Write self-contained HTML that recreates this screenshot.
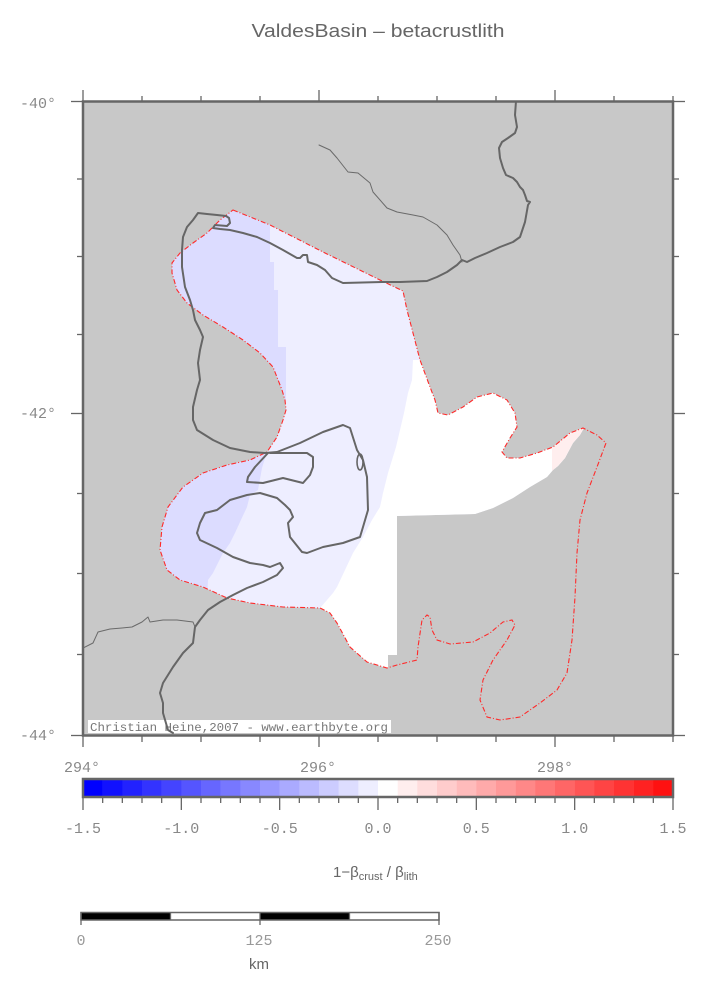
<!DOCTYPE html>
<html><head><meta charset="utf-8"><style>
html,body{margin:0;padding:0;background:#fff;}
svg{display:block;}
</style></head><body>
<svg width="707" height="990" viewBox="0 0 707 990" xmlns="http://www.w3.org/2000/svg">
<defs>
<clipPath id="outl"><polygon points="233,210 270,225 323,252 380,280 403,291 407,310 413,333 420,360 430,387 435,400 438,413 448,415 463,407 477,397 493,393 507,400 515,413 517,427 510,438 502,452 507,458 520,458 537,453 553,447 570,433 583,428 597,435 606,443 597,467 587,493 580,520 577,553 575,597 572,640 567,673 557,690 540,703 520,717 500,720 487,717 480,700 483,680 493,660 507,640 515,625 512,620 503,622 490,633 473,642 450,644 437,640 432,630 430,617 427,615 422,620 418,647 417,660 397,665 387,668 367,662 350,647 337,623 330,613 320,608 283,607 250,603 227,598 203,587 180,580 167,570 160,550 162,527 168,507 183,487 203,473 227,465 250,460 267,452 277,437 283,420 286,410 285,400 282,390 273,367 260,353 243,340 223,327 203,315 187,303 177,290 172,273 172,263 180,253 193,243 207,233 220,220"/></clipPath>
<clipPath id="mask"><polygon points="80,95 700,95 700,428 584,428 580,435 573,443 565,458 558,466 553,470 547,477 530,487 513,498 493,508 475,514 397,516 397,655 388,655 388,700 80,700"/></clipPath>
<clipPath id="frame"><rect x="83" y="101" width="590" height="635"/></clipPath>
</defs>

<!-- title -->
<text x="378" y="37" text-anchor="middle" font-family="Liberation Sans, sans-serif" font-size="18" fill="#666" textLength="253" lengthAdjust="spacingAndGlyphs">ValdesBasin – betacrustlith</text>

<!-- map background -->
<rect x="83" y="101" width="590" height="635" fill="#c8c8c8"/>

<!-- data fill -->
<g clip-path="url(#outl)"><g clip-path="url(#mask)">
<rect x="83" y="101" width="590" height="635" fill="#eeeeff"/>
<polygon fill="#dcdcff" points="150,195 270,195 270,262 274,262 274,290 278,290 278,347 286,347 286,400 150,400"/>
<polygon fill="#dcdcff" points="150,440 268,440 266,455 262,468 258,490 250,495 247,507 240,522 235,533 230,543 223,553 218,563 213,573 208,580 207,600 150,600"/>
<polygon fill="#ffffff" points="413,360 700,360 700,700 320,700 320,608 327,600 333,593 337,587 345,570 353,553 363,537 372,520 380,507 383,493 388,473 392,460 396,447 400,430 404,413 408,393 412,380"/>
<polygon fill="#ffeeee" points="552,446 590,420 584,428 580,435 573,443 565,458 558,466 552,471"/>
</g></g>

<!-- outline -->
<polygon fill="none" stroke="#ff2a2a" stroke-width="1.1" stroke-dasharray="5,2,1,2" points="233,210 270,225 323,252 380,280 403,291 407,310 413,333 420,360 430,387 435,400 438,413 448,415 463,407 477,397 493,393 507,400 515,413 517,427 510,438 502,452 507,458 520,458 537,453 553,447 570,433 583,428 597,435 606,443 597,467 587,493 580,520 577,553 575,597 572,640 567,673 557,690 540,703 520,717 500,720 487,717 480,700 483,680 493,660 507,640 515,625 512,620 503,622 490,633 473,642 450,644 437,640 432,630 430,617 427,615 422,620 418,647 417,660 397,665 387,668 367,662 350,647 337,623 330,613 320,608 283,607 250,603 227,598 203,587 180,580 167,570 160,550 162,527 168,507 183,487 203,473 227,465 250,460 267,452 277,437 283,420 286,410 285,400 282,390 273,367 260,353 243,340 223,327 203,315 187,303 177,290 172,273 172,263 180,253 193,243 207,233 220,220"/>

<!-- attribution -->
<rect x="88" y="720" width="303" height="13" fill="#fff"/>
<text x="90" y="731" font-family="Liberation Mono, monospace" font-size="12" fill="#777" textLength="298" lengthAdjust="spacingAndGlyphs">Christian Heine,2007 - www.earthbyte.org</text>

<!-- coastlines -->
<g clip-path="url(#frame)" fill="none" stroke-linejoin="round" stroke-linecap="round">
<polyline stroke="#666" stroke-width="2" points="516,101 515,115 517,127 515,133 508,138 502,142 499,148 500,158 503,168 506,175 513,178 517,182 520,187 523,190 525,195 527,201 530,202 528,205 525,222 520,237 513,242 500,247 487,253 475,258 467,262 462,260 457,265 447,272 437,277 427,281 400,282 383,282 343,283 332,278 325,270 317,265 308,262 307,255 303,255 300,258 297,258 283,250 270,243 257,237 243,233 230,230 220,229 213,228 215,225 227,226 230,223 229,218 226,216 217,215 207,214 198,213 193,220 187,227 183,237 182,250 182,267 185,287 190,300 193,310 195,320 200,330 203,337 200,350 198,363 200,380 197,390 193,407 193,420 197,430 213,440 230,448 250,452 265,453 277,452 300,443 323,432 343,425 350,428 357,450 363,460 367,477 368,510 363,527 360,537 343,543 323,547 307,553 302,552 290,537 288,523 293,517 290,510 285,505 277,498 260,493 247,495 230,500 217,510 205,513 200,523 197,533 200,540 217,548 233,557 250,563 263,565 270,567 280,563 283,568 277,575 263,582 247,588 233,595 220,602 208,610 200,620 195,627 193,643 183,653 173,667 163,683 160,693 163,703 163,713 168,730 173,733"/>
<polyline stroke="#666" stroke-width="2" points="268,453 255,467 248,477 247,482 263,483 283,478 303,483 310,475 313,467 313,457 307,453 290,453 270,453"/>
<ellipse cx="360" cy="462" rx="3" ry="8" stroke="#666" stroke-width="1.6"/>
<polyline stroke="#6a6a6a" stroke-width="1" points="319,145 330,150 337,158 348,172 358,173 370,183 373,192 387,208 397,212 413,215 423,217 437,225 447,235 453,245 460,255 462,262"/>
<polyline stroke="#6a6a6a" stroke-width="1" points="83,648 93,643 98,632 110,629 122,628 132,627 142,622 148,617 150,622 163,620 177,620 193,622 195,627"/>
</g>

<!-- frame -->
<rect x="83" y="101.5" width="590" height="634" fill="none" stroke="#666" stroke-width="2.5"/>
<g stroke="#666" stroke-width="1.3">
<!-- top ticks -->
<line x1="83" y1="101" x2="83" y2="90"/><line x1="142" y1="101" x2="142" y2="96"/><line x1="201" y1="101" x2="201" y2="96"/><line x1="260" y1="101" x2="260" y2="96"/><line x1="319" y1="101" x2="319" y2="90"/><line x1="378" y1="101" x2="378" y2="96"/><line x1="437" y1="101" x2="437" y2="96"/><line x1="496" y1="101" x2="496" y2="96"/><line x1="555" y1="101" x2="555" y2="90"/><line x1="614" y1="101" x2="614" y2="96"/><line x1="673" y1="101" x2="673" y2="96"/>
<!-- bottom ticks -->
<line x1="83" y1="736" x2="83" y2="747"/><line x1="142" y1="736" x2="142" y2="742"/><line x1="201" y1="736" x2="201" y2="742"/><line x1="260" y1="736" x2="260" y2="742"/><line x1="319" y1="736" x2="319" y2="747"/><line x1="378" y1="736" x2="378" y2="742"/><line x1="437" y1="736" x2="437" y2="742"/><line x1="496" y1="736" x2="496" y2="742"/><line x1="555" y1="736" x2="555" y2="747"/><line x1="614" y1="736" x2="614" y2="742"/><line x1="673" y1="736" x2="673" y2="742"/>
<!-- left ticks -->
<line x1="83" y1="101.5" x2="71" y2="101.5"/><line x1="83" y1="179" x2="77" y2="179"/><line x1="83" y1="256.5" x2="77" y2="256.5"/><line x1="83" y1="334.5" x2="77" y2="334.5"/><line x1="83" y1="413.5" x2="71" y2="413.5"/><line x1="83" y1="493.5" x2="77" y2="493.5"/><line x1="83" y1="573.5" x2="77" y2="573.5"/><line x1="83" y1="654.5" x2="77" y2="654.5"/><line x1="83" y1="735.5" x2="71" y2="735.5"/>
<!-- right ticks -->
<line x1="673" y1="101.5" x2="685" y2="101.5"/><line x1="673" y1="179" x2="679" y2="179"/><line x1="673" y1="256.5" x2="679" y2="256.5"/><line x1="673" y1="334.5" x2="679" y2="334.5"/><line x1="673" y1="413.5" x2="685" y2="413.5"/><line x1="673" y1="493.5" x2="679" y2="493.5"/><line x1="673" y1="573.5" x2="679" y2="573.5"/><line x1="673" y1="654.5" x2="679" y2="654.5"/><line x1="673" y1="735.5" x2="685" y2="735.5"/>
</g>

<!-- axis labels -->
<g font-family="Liberation Mono, monospace" font-size="15" fill="#888">
<text x="20" y="108">-40°</text>
<text x="20" y="418">-42°</text>
<text x="20" y="740">-44°</text>
<text x="64" y="772">294°</text>
<text x="300" y="772">296°</text>
<text x="537" y="772">298°</text>
</g>

<!-- colorbar -->
<g>
<rect x="83.00" y="779" width="19.9" height="18" fill="rgb(0,0,255)"/>
<rect x="102.67" y="779" width="19.9" height="18" fill="rgb(17,17,255)"/>
<rect x="122.33" y="779" width="19.9" height="18" fill="rgb(34,34,255)"/>
<rect x="142.00" y="779" width="19.9" height="18" fill="rgb(51,51,255)"/>
<rect x="161.67" y="779" width="19.9" height="18" fill="rgb(68,68,255)"/>
<rect x="181.33" y="779" width="19.9" height="18" fill="rgb(85,85,255)"/>
<rect x="201.00" y="779" width="19.9" height="18" fill="rgb(102,102,255)"/>
<rect x="220.67" y="779" width="19.9" height="18" fill="rgb(119,119,255)"/>
<rect x="240.33" y="779" width="19.9" height="18" fill="rgb(136,136,255)"/>
<rect x="260.00" y="779" width="19.9" height="18" fill="rgb(153,153,255)"/>
<rect x="279.67" y="779" width="19.9" height="18" fill="rgb(170,170,255)"/>
<rect x="299.33" y="779" width="19.9" height="18" fill="rgb(187,187,255)"/>
<rect x="319.00" y="779" width="19.9" height="18" fill="rgb(204,204,255)"/>
<rect x="338.67" y="779" width="19.9" height="18" fill="rgb(221,221,255)"/>
<rect x="358.33" y="779" width="19.9" height="18" fill="rgb(238,238,255)"/>
<rect x="378.00" y="779" width="19.9" height="18" fill="rgb(255,255,255)"/>
<rect x="397.67" y="779" width="19.9" height="18" fill="rgb(255,238,238)"/>
<rect x="417.33" y="779" width="19.9" height="18" fill="rgb(255,221,221)"/>
<rect x="437.00" y="779" width="19.9" height="18" fill="rgb(255,204,204)"/>
<rect x="456.67" y="779" width="19.9" height="18" fill="rgb(255,187,187)"/>
<rect x="476.33" y="779" width="19.9" height="18" fill="rgb(255,170,170)"/>
<rect x="496.00" y="779" width="19.9" height="18" fill="rgb(255,153,153)"/>
<rect x="515.67" y="779" width="19.9" height="18" fill="rgb(255,136,136)"/>
<rect x="535.33" y="779" width="19.9" height="18" fill="rgb(255,119,119)"/>
<rect x="555.00" y="779" width="19.9" height="18" fill="rgb(255,102,102)"/>
<rect x="574.67" y="779" width="19.9" height="18" fill="rgb(255,85,85)"/>
<rect x="594.33" y="779" width="19.9" height="18" fill="rgb(255,68,68)"/>
<rect x="614.00" y="779" width="19.9" height="18" fill="rgb(255,51,51)"/>
<rect x="633.67" y="779" width="19.9" height="18" fill="rgb(255,34,34)"/>
<rect x="653.33" y="779" width="19.67" height="18" fill="rgb(255,17,17)"/>
<rect x="83" y="779" width="590" height="18" fill="none" stroke="#666" stroke-width="2.5"/>
</g>
<g stroke="#666" stroke-width="1.3">
<line x1="83" y1="797" x2="83" y2="810"/><line x1="102.67" y1="797" x2="102.67" y2="803"/><line x1="122.33" y1="797" x2="122.33" y2="803"/><line x1="142" y1="797" x2="142" y2="803"/><line x1="161.67" y1="797" x2="161.67" y2="803"/><line x1="181.33" y1="797" x2="181.33" y2="810"/><line x1="201" y1="797" x2="201" y2="803"/><line x1="220.67" y1="797" x2="220.67" y2="803"/><line x1="240.33" y1="797" x2="240.33" y2="803"/><line x1="260" y1="797" x2="260" y2="803"/><line x1="279.67" y1="797" x2="279.67" y2="810"/><line x1="299.33" y1="797" x2="299.33" y2="803"/><line x1="319" y1="797" x2="319" y2="803"/><line x1="338.67" y1="797" x2="338.67" y2="803"/><line x1="358.33" y1="797" x2="358.33" y2="803"/><line x1="378" y1="797" x2="378" y2="810"/><line x1="397.67" y1="797" x2="397.67" y2="803"/><line x1="417.33" y1="797" x2="417.33" y2="803"/><line x1="437" y1="797" x2="437" y2="803"/><line x1="456.67" y1="797" x2="456.67" y2="803"/><line x1="476.33" y1="797" x2="476.33" y2="810"/><line x1="496" y1="797" x2="496" y2="803"/><line x1="515.67" y1="797" x2="515.67" y2="803"/><line x1="535.33" y1="797" x2="535.33" y2="803"/><line x1="555" y1="797" x2="555" y2="803"/><line x1="574.67" y1="797" x2="574.67" y2="810"/><line x1="594.33" y1="797" x2="594.33" y2="803"/><line x1="614" y1="797" x2="614" y2="803"/><line x1="633.67" y1="797" x2="633.67" y2="803"/><line x1="653.33" y1="797" x2="653.33" y2="803"/><line x1="673" y1="797" x2="673" y2="810"/>
</g>
<g font-family="Liberation Mono, monospace" font-size="15" fill="#888" text-anchor="middle">
<text x="83" y="833">-1.5</text>
<text x="181.3" y="833">-1.0</text>
<text x="279.7" y="833">-0.5</text>
<text x="378" y="833">0.0</text>
<text x="476.3" y="833">0.5</text>
<text x="574.7" y="833">1.0</text>
<text x="673" y="833">1.5</text>
</g>
<text x="333" y="877" font-family="Liberation Sans, sans-serif" font-size="15" fill="#666">1−β<tspan font-size="11" dy="3">crust</tspan><tspan dy="-3"> / β</tspan><tspan font-size="11" dy="3">lith</tspan></text>

<!-- scale bar -->
<rect x="81" y="912.5" width="89.5" height="7.5" fill="#000"/>
<rect x="170.5" y="912.5" width="89.5" height="7.5" fill="#fff"/>
<rect x="260" y="912.5" width="89.5" height="7.5" fill="#000"/>
<rect x="349.5" y="912.5" width="89.5" height="7.5" fill="#fff"/>
<rect x="81" y="912.5" width="358" height="7.5" fill="none" stroke="#666" stroke-width="1.5"/>
<g stroke="#666" stroke-width="1.3">
<line x1="81" y1="912" x2="81" y2="925"/><line x1="170.5" y1="912" x2="170.5" y2="920"/><line x1="260" y1="912" x2="260" y2="925"/><line x1="349.5" y1="912" x2="349.5" y2="920"/><line x1="439" y1="912" x2="439" y2="925"/>
</g>
<g font-family="Liberation Mono, monospace" font-size="15" fill="#999" text-anchor="middle">
<text x="81" y="945">0</text>
<text x="259" y="945">125</text>
<text x="438" y="945">250</text>
</g>
<text x="259" y="969" text-anchor="middle" font-family="Liberation Sans, sans-serif" font-size="15" fill="#666">km</text>
</svg>
</body></html>
